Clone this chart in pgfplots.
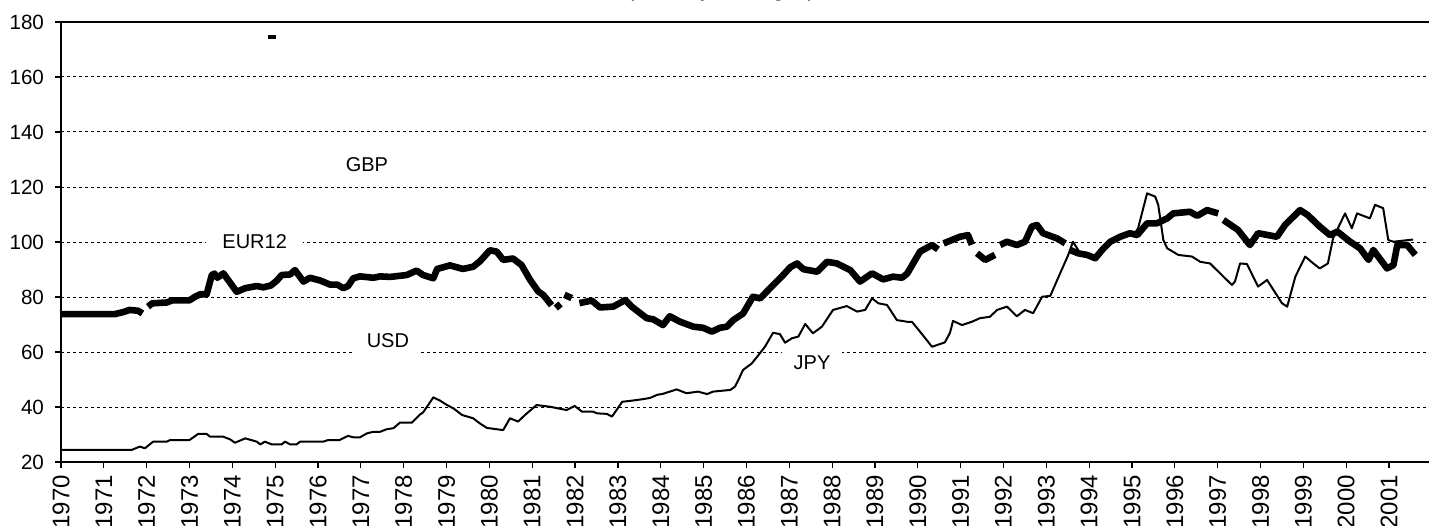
\documentclass[border=0pt]{standalone}
\usepackage{fontspec}
\setmainfont{Liberation Sans}
\usepackage{pgfplots}
\pgfplotsset{compat=1.18}
\tikzset{lbl/.style={fill=white, inner xsep=6pt, inner ysep=2.5pt, font=\fontsize{10}{12}\selectfont}}

\begin{document}
\begin{tikzpicture}
\begin{axis}[
    scale only axis,
    width=684pt, height=220pt,
    xmin=1970, xmax=2001.93,
    ymin=20, ymax=180,
    xtick={1970,...,2001},
    ytick={20,40,...,180},
    axis x line*=bottom, axis y line*=left,
    axis line style={-, line width=0.8pt},
    tick pos=left, tick align=outside,
    major tick length=3pt,
    tick style={black, line width=0.6pt},
    ymajorgrids,
    grid style={black, line width=0.5pt, dash pattern=on 1.5pt off 1.5pt},
    y tick label style={font=\fontsize{10.3}{12}\selectfont, xshift=-2pt},
    x tick label style={font=\fontsize{12}{14}\selectfont, rotate=90, anchor=east},
    /pgf/number format/assume math mode=true,
    /pgf/number format/1000 sep={},
    unbounded coords=jump,
    clip=false,
]
\coordinate (bbsw) at (rel axis cs:0,0);
\coordinate (bbne) at (rel axis cs:1,1);
\draw[line width=0.8pt] (rel axis cs:0,1) -- (rel axis cs:1,1);

% JPY (thin)
\addplot[black, line width=1pt, line join=round] coordinates {
(1970.00,24.4) (1971.65,24.4) (1971.84,25.6) (1971.96,25.0) (1972.15,27.4)
(1972.47,27.4) (1972.55,28.0) (1973.00,28.0) (1973.20,30.2) (1973.40,30.2)
(1973.48,29.2) (1973.79,29.2) (1973.95,28.2) (1974.06,27.0) (1974.30,28.6)
(1974.57,27.4) (1974.65,26.4) (1974.76,27.4) (1974.92,26.4) (1975.15,26.4)
(1975.23,27.4) (1975.35,26.4) (1975.50,26.4) (1975.58,27.4) (1976.12,27.4)
(1976.24,28.0) (1976.50,28.0) (1976.70,29.5) (1976.82,29.0) (1976.98,29.0)
(1977.14,30.4) (1977.29,31.0) (1977.45,31.0) (1977.60,31.9) (1977.76,32.3)
(1977.91,34.3) (1978.19,34.3) (1978.38,37.3) (1978.45,38.0) (1978.69,43.5)
(1978.85,42.3) (1979.01,40.7) (1979.16,39.5) (1979.36,37.1) (1979.62,35.9)
(1979.78,34.0) (1979.94,32.4) (1980.32,31.6) (1980.48,35.9) (1980.67,34.7)
(1980.83,37.1) (1981.10,40.7) (1981.41,40.1) (1981.80,38.9) (1981.99,40.4)
(1982.16,38.3) (1982.42,38.3) (1982.51,37.7) (1982.74,37.5) (1982.86,36.5)
(1983.10,41.9) (1983.32,42.3) (1983.56,42.8) (1983.75,43.3) (1983.91,44.4)
(1984.05,44.8) (1984.21,45.6) (1984.37,46.4) (1984.60,45.0) (1984.87,45.6)
(1985.08,44.7) (1985.22,45.6) (1985.62,46.2) (1985.73,47.4) (1985.80,49.5)
(1985.92,53.5) (1986.12,55.8) (1986.25,58.3) (1986.43,61.9) (1986.62,67.0)
(1986.78,66.5) (1986.90,63.4) (1987.06,65.0) (1987.21,65.6) (1987.37,70.2)
(1987.55,66.8) (1987.76,69.2) (1988.02,75.3) (1988.34,76.7) (1988.58,74.7)
(1988.77,75.3) (1988.93,79.5) (1989.08,77.7) (1989.28,77.1) (1989.51,71.6)
(1989.75,71.0) (1989.86,71.0) (1990.05,67.4) (1990.33,61.9) (1990.63,63.5)
(1990.75,67.0) (1990.82,71.3) (1991.03,69.8) (1991.26,71.0) (1991.45,72.3)
(1991.68,72.8) (1991.85,75.3) (1992.08,76.5) (1992.31,73.0) (1992.50,75.3)
(1992.69,74.1) (1992.90,80.1) (1993.09,80.4) (1993.32,88.6) (1993.51,95.3)
(1993.62,100.1) (1993.79,95.9) (1994.18,94.1) (1994.49,99.5) (1994.95,103.2)
(1995.03,102.5) (1995.14,105.0) (1995.35,117.7) (1995.54,116.5) (1995.61,113.5)
(1995.73,100.7) (1995.82,97.7) (1996.08,95.3) (1996.40,94.7) (1996.59,92.8)
(1996.82,92.2) (1997.13,87.4) (1997.33,84.4) (1997.40,85.6) (1997.52,92.2)
(1997.68,92.0) (1997.94,83.8) (1998.15,86.2) (1998.50,77.7) (1998.62,76.5)
(1998.81,87.4) (1999.04,94.7) (1999.23,92.2) (1999.38,90.4) (1999.57,92.2)
(1999.69,101.3) (1999.97,110.4) (2000.13,105.0) (2000.25,110.4) (2000.55,108.6)
(2000.67,113.5) (2000.86,112.3) (2000.98,100.7) (2001.10,100.1) (2001.56,100.9)
};

% EUR12 (thick, with gaps)
\addplot[black, line width=3.3pt, line join=round] coordinates {
(1970.00,73.8) (1971.26,73.8) (1971.45,74.5) (1971.60,75.3) (1971.80,75.0)
(1971.90,74.0) (1971.95,nan)
(1972.03,76.5) (1972.13,77.7) (1972.47,78.0) (1972.60,78.8) (1973.00,78.8)
(1973.13,80.1) (1973.25,81.0) (1973.40,81.0) (1973.52,88.0) (1973.58,88.5)
(1973.65,87.0) (1973.79,88.6) (1974.10,81.9) (1974.30,83.2) (1974.57,84.0)
(1974.72,83.5) (1974.90,84.2) (1975.04,86.0) (1975.15,88.0) (1975.35,88.2)
(1975.46,89.8) (1975.66,85.6) (1975.81,87.0) (1976.05,86.0) (1976.28,84.5)
(1976.45,84.5) (1976.59,83.2) (1976.70,84.0) (1976.82,86.8) (1976.98,87.5)
(1977.29,87.0) (1977.45,87.5) (1977.68,87.3) (1978.07,88.0) (1978.30,89.6)
(1978.45,88.0) (1978.69,86.8) (1978.78,90.2) (1979.08,91.5) (1979.38,90.2)
(1979.62,91.0) (1979.78,93.0) (1980.01,97.0) (1980.17,96.5) (1980.32,93.5)
(1980.55,94.0) (1980.75,91.6) (1980.95,86.2) (1981.14,82.0) (1981.26,80.7)
(1981.45,77.0) (1981.50,nan)
(1981.55,76.0) (1981.66,77.5) (1981.70,nan)
(1981.75,80.8) (1981.92,79.6) (1982.00,nan)
(1982.10,77.8) (1982.39,78.7) (1982.58,76.2) (1982.89,76.5) (1983.17,78.9)
(1983.32,76.5) (1983.67,72.3) (1983.82,71.9) (1984.05,69.8) (1984.21,73.0)
(1984.45,71.0) (1984.76,69.2) (1984.99,68.8) (1985.19,67.4) (1985.38,68.8)
(1985.54,69.2) (1985.69,71.6) (1985.92,74.0) (1986.15,80.1) (1986.32,79.5)
(1986.55,83.2) (1986.82,87.4) (1987.02,90.8) (1987.18,92.2) (1987.33,90.1)
(1987.65,89.2) (1987.88,92.8) (1988.11,92.2) (1988.42,89.8) (1988.65,85.6)
(1988.93,88.6) (1989.19,86.4) (1989.42,87.4) (1989.63,87.0) (1989.75,88.5)
(1990.05,96.5) (1990.33,98.9) (1990.47,97.3) (1990.53,nan)
(1990.60,99.5) (1990.98,101.9) (1991.17,102.5) (1991.26,99.0) (1991.32,nan)
(1991.38,95.9) (1991.57,93.5) (1991.80,95.3) (1991.86,nan)
(1991.92,98.9) (1992.08,100.1) (1992.31,98.9) (1992.50,100.1) (1992.66,105.6)
(1992.78,106.2) (1992.92,103.2) (1993.25,101.3) (1993.44,99.5) (1993.50,nan)
(1993.55,97.1) (1993.74,95.9) (1993.95,95.3) (1994.14,94.1) (1994.30,97.1)
(1994.49,100.1) (1994.72,101.9) (1994.95,103.2) (1995.12,102.5) (1995.35,106.8)
(1995.58,106.8) (1995.82,108.6) (1995.96,110.4) (1996.35,111.0) (1996.52,109.5)
(1996.75,111.6) (1997.01,110.4) (1997.07,nan)
(1997.13,108.0) (1997.47,104.4) (1997.75,98.9) (1997.94,103.2) (1998.38,101.9)
(1998.57,106.2) (1998.92,111.6) (1999.10,109.8) (1999.38,105.6) (1999.62,102.5)
(1999.79,103.8) (2000.09,100.1) (2000.32,97.7) (2000.52,93.5) (2000.63,97.1)
(2000.95,90.4) (2001.10,91.6) (2001.19,98.9) (2001.42,98.9) (2001.61,95.3)
};

% GBP (only a short piece visible)
\addplot[black, line width=2pt] coordinates {(1974.84,174.7) (1975.02,174.7)};

\node[lbl] at (axis cs:1977.14,128) {GBP};
\node[lbl, inner xsep=8pt] at (axis cs:1974.52,100) {EUR12};
\node[lbl] at (axis cs:1977.63,64) {USD};
\node[lbl] at (axis cs:1987.53,56) {JPY};
\node[anchor=base, font=\fontsize{11}{13}\selectfont]
  at ([yshift=12.5pt]rel axis cs:0.4825,1) {(monthly averages)};
\end{axis}
\pgfresetboundingbox
\useasboundingbox ([xshift=-30.5pt,yshift=-31.5pt]bbsw) rectangle ([yshift=11pt]bbne);
\end{tikzpicture}
\end{document}
